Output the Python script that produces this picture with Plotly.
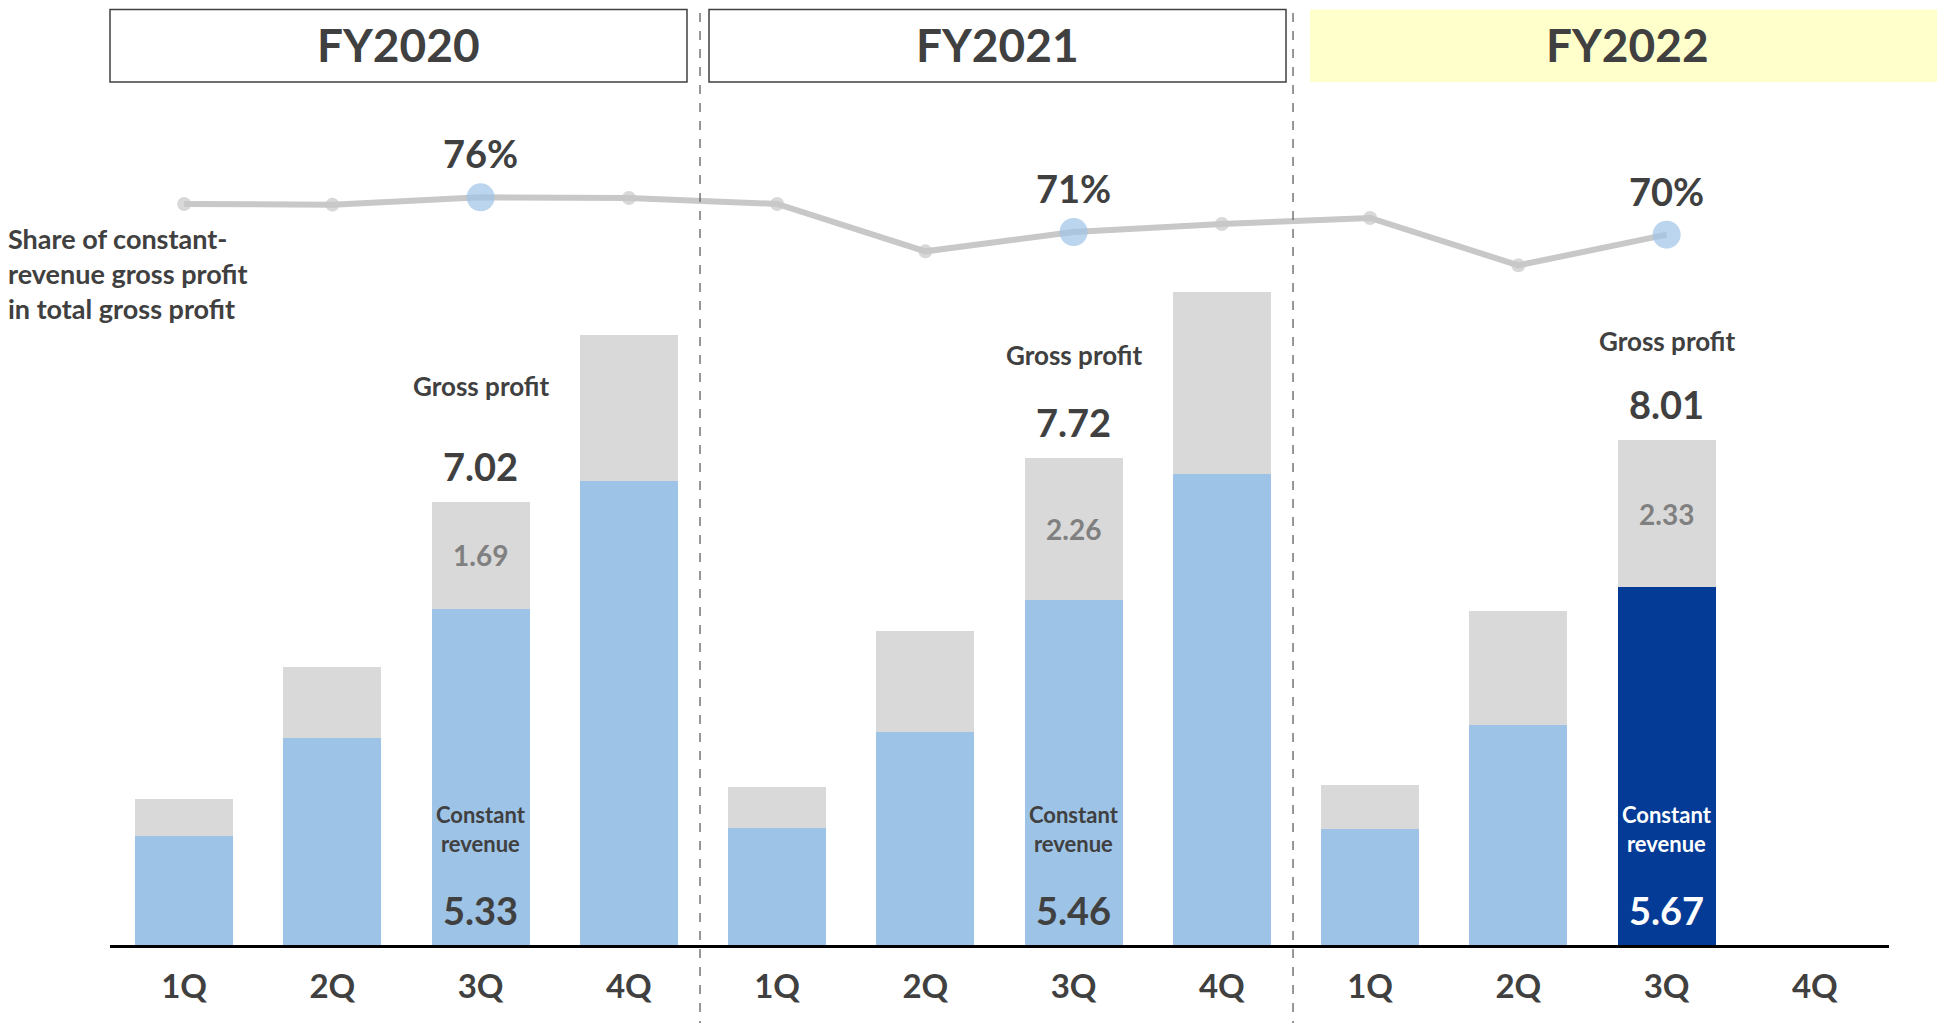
import plotly.graph_objects as go

# ---------------- data ----------------
years = ["FY2020", "FY2021", "FY2022"]
quarters = ["1Q", "2Q", "3Q", "4Q"] * 3
year_of_bar = ["FY2020"] * 4 + ["FY2021"] * 4 + ["FY2022"] * 4
constant_revenue = [1.73, 3.28, 5.33, 7.35, 1.85, 3.38, 5.46, 7.46, 1.84, 3.49, 5.67, None]
other_profit = [0.58, 1.13, 1.69, 2.32, 0.65, 1.60, 2.26, 2.89, 0.69, 1.80, 2.33, None]
gross_profit = [2.31, 4.41, 7.02, 9.67, 2.50, 4.98, 7.72, 10.35, 2.53, 5.29, 8.01, None]
share_pct = [74.9, 74.8, 75.9, 75.8, 74.9, 67.8, 70.7, 71.9, 72.8, 65.7, 70.3, None]
highlight_idx = [2, 6, 10]
current_idx = 10

x_keys = [f"{y} {q}" for y, q in zip(year_of_bar, quarters)]

# ---------------- styles ----------------
TXT = "#404040"
LIGHT_BLUE = "#9DC3E6"
DARK_BLUE = "#033B96"
GRAY_BAR = "#D9D9D9"
LINE_GRAY = "#C8C8C8"
FONT = "Lato"

OFF = 8                      # page body margin
W, H = 1945 - OFF, 1023 - OFF
ML, MR, MT, MB = 110 - OFF, 56, 0, 78
PW = W - ML - MR
PH = (945 - OFF) - MT
PX_PER_UNIT = 63.1

gp_label_shift = {2: 116, 6: 103, 10: 99}


def px2x(px):  # page pixel -> paper x
    return (px - OFF - ML) / PW


def py2y(py):  # page pixel -> paper y
    return 1 - (py - OFF - MT) / PH


blue_colors = [DARK_BLUE if i == current_idx else LIGHT_BLUE for i in range(len(x_keys))]

fig = go.Figure()
fig.add_trace(go.Bar(
    x=x_keys, y=constant_revenue, marker=dict(color=blue_colors, line=dict(width=0)),
    name="Constant revenue", hoverinfo="skip"))
fig.add_trace(go.Bar(
    x=x_keys, y=other_profit, marker=dict(color=GRAY_BAR, line=dict(width=0)),
    name="Other", hoverinfo="skip"))

m_size = [28 if i in highlight_idx else 14 for i in range(len(x_keys))]
m_color = [LIGHT_BLUE if i in highlight_idx else LINE_GRAY for i in range(len(x_keys))]
fig.add_trace(go.Scatter(
    x=x_keys, y=share_pct, yaxis="y2", mode="lines+markers",
    line=dict(color=LINE_GRAY, width=6),
    marker=dict(size=m_size, color=m_color, line=dict(width=0)),
    hoverinfo="skip"))

ann = []
for i in highlight_idx:
    ann.append(dict(x=x_keys[i], y=share_pct[i], xref="x", yref="y2", yshift=44,
                    text=f"<b>{round(share_pct[i])}%</b>", showarrow=False,
                    font=dict(family=FONT, size=38, color=TXT)))
    ann.append(dict(x=x_keys[i], y=gross_profit[i], xref="x", yref="y", yshift=gp_label_shift[i],
                    text="<b>Gross profit</b>", showarrow=False,
                    font=dict(family=FONT, size=26, color=TXT)))
    ann.append(dict(x=x_keys[i], y=gross_profit[i], xref="x", yref="y", yshift=36,
                    text=f"<b>{gross_profit[i]:.2f}</b>", showarrow=False,
                    font=dict(family=FONT, size=38, color=TXT)))
    ann.append(dict(x=x_keys[i], y=constant_revenue[i] + other_profit[i] / 2, xref="x", yref="y",
                    text=f"<b>{other_profit[i]:.2f}</b>", showarrow=False,
                    font=dict(family=FONT, size=28, color="#808080")))
    c = "white" if i == current_idx else TXT
    ann.append(dict(x=x_keys[i], y=0, xref="x", yref="y", yshift=116,
                    text="<b>Constant<br>revenue</b>", showarrow=False,
                    font=dict(family=FONT, size=22, color=c)))
    ann.append(dict(x=x_keys[i], y=0, xref="x", yref="y", yshift=35,
                    text=f"<b>{constant_revenue[i]:.2f}</b>", showarrow=False,
                    font=dict(family=FONT, size=38, color=c)))

ann.append(dict(x=px2x(6), y=py2y(273), xref="paper", yref="paper",
                xanchor="left", yanchor="middle", align="left", showarrow=False,
                text="<b>Share of constant-<br>revenue gross profit<br>in total gross profit</b>",
                font=dict(family=FONT, size=27, color=TXT)))

# year header boxes (page pixel extents)
boxes = [(110, 687, "white", TXT), (709, 1286, "white", TXT), (1310, 1960, "#FFFFCC", None)]
shapes = []
for (x0, x1, fill, border), yr in zip(boxes, years):
    shapes.append(dict(type="rect", xref="paper", yref="paper",
                       x0=px2x(x0), x1=px2x(x1), y0=py2y(82), y1=py2y(9.5),
                       fillcolor=fill, line=dict(color=border or fill, width=1.5 if border else 0),
                       layer="below"))
    xc = (x0 + min(x1, 1945)) / 2
    ann.append(dict(x=px2x(xc), y=py2y(45), xref="paper", yref="paper", showarrow=False,
                    xanchor="center", yanchor="middle",
                    text=f"<b>{yr}</b>", font=dict(family=FONT, size=46, color=TXT)))

# dashed separators between fiscal years
for k in (4, 8):
    xs = (k - 0.02) / 12
    shapes.append(dict(type="line", xref="paper", yref="paper", x0=xs, x1=xs,
                       y0=py2y(1030), y1=py2y(0), line=dict(color="#606060", width=1.3, dash="dash")))

fig.update_layout(
    width=W, height=H, margin=dict(l=ML, r=MR, t=MT, b=MB),
    barmode="stack", bargap=0.34, showlegend=False,
    paper_bgcolor="white", plot_bgcolor="white",
    xaxis=dict(type="category", tickvals=x_keys, ticktext=[f"<b>{q}</b>" for q in quarters],
               tickfont=dict(family=FONT, size=33, color=TXT), ticks="", ticklabelstandoff=10,
               showline=True, linecolor="black", linewidth=3, showgrid=False, zeroline=False,
               range=[-0.5, 11.5]),
    yaxis=dict(range=[0, PH / PX_PER_UNIT], visible=False, showgrid=False, zeroline=False),
    yaxis2=dict(range=[75.9 - (945 - 197.3) / 6.67, 75.9 + (197.3 - OFF) / 6.67],
                overlaying="y", visible=False, showgrid=False, zeroline=False),
    annotations=ann, shapes=shapes,
)

fig.write_html("out.html")
